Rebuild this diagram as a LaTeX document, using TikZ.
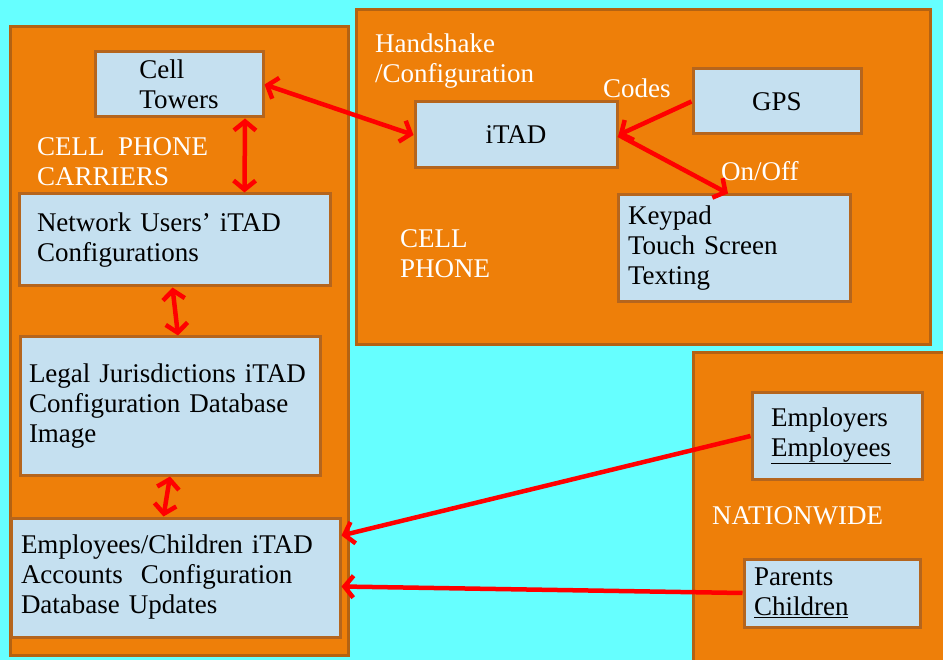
\documentclass[tikz,border=0pt]{standalone}
\usepackage{fontspec}
\setmainfont{Liberation Serif}
\usepackage{xcolor}
\usepackage{tikz}
\usetikzlibrary{arrows.meta}

\begin{document}
\begin{tikzpicture}[x=1pt, y=-1pt, >={Straight Barb[length=9pt, width=22pt]},
    panel/.style={fill=panelOrange, draw=panelEdge, line width=3pt},
    infobox/.style={fill=boxBlue, draw=boxEdge, line width=3pt, align=left, inner ysep=0pt,
        font=\fontsize{27}{30}\selectfont},
    tagtext/.style={white, align=left, anchor=west, inner sep=0pt, font=\fontsize{27}{30}\selectfont},
    redlink/.style={red, line width=4.5pt}]

    % --- LAYER 0: WARNA ---
    \definecolor{bgCyan}{RGB}{102,255,255}
    \definecolor{panelOrange}{RGB}{238,127,9}
    \definecolor{panelEdge}{RGB}{180,98,18}
    \definecolor{boxBlue}{RGB}{197,224,240}
    \definecolor{boxEdge}{RGB}{181,101,29}

    % --- LAYER 1: LATAR ---
    \useasboundingbox (0,0) rectangle (943,660);
    \fill[bgCyan] (0,0) rectangle (943,660);
    \clip (0,0) rectangle (943,660);

    % --- LAYER 2: PANEL ORANYE ---
    \draw[panel] (10,27) rectangle (348,655);   % carriers
    \draw[panel] (356,10) rectangle (930,345);  % cell phone
    \draw[panel] (693,353) rectangle (960,680); % nationwide

    % --- LAYER 3: KOTAK ---
    \node[infobox, minimum width=168, minimum height=65] (towers) at (179,84.5) {Cell\\Towers};
    \node[infobox, text width=275, inner xsep=18, minimum height=92] (netusers) at (174.5,240)
        {Network Users’ iTAD\\Configurations};
    \node[infobox, text width=282, inner xsep=9, minimum height=138] (legal) at (170,406)
        {Legal Jurisdictions iTAD\\Configuration Database\\Image};
    \node[infobox, text width=309, inner xsep=10, minimum height=119] (empdb) at (175.5,577.5)
        {Employees/Children iTAD\\Accounts~~Configuration\\Database Updates};

    \node[infobox, minimum width=202, minimum height=66] (itad) at (516,135) {iTAD};
    \node[infobox, minimum width=168, minimum height=65] (gps) at (777,101.5) {GPS};
    \node[infobox, text width=212, inner xsep=10, minimum height=107] (keypad) at (734,248.5)
        {Keypad\\Touch Screen\\Texting};

    \node[infobox, text width=132, inner xsep=19, minimum height=86] (employers) at (837,436)
        {Employers\\\underline{Employees}};
    \node[infobox, text width=156, inner xsep=10, minimum height=68] (parents) at (832,593)
        {Parents\\\underline{Children}};

    % --- LAYER 4: TEKS PANEL ---
    \node[tagtext] (carriers) at (37,162) {CELL~~PHONE\\CARRIERS};
    \node[tagtext] (handshake) at (375,61.5) {Handshake\\/Configuration};
    \node[tagtext] (codes) at (603,88) {Codes};
    \node[tagtext] (onoff) at (721,171) {On/Off};
    \node[tagtext] (phone) at (400,254) {CELL\\PHONE};
    \node[tagtext] (nationwide) at (712,516) {NATIONWIDE};

    % --- LAYER 5: PANAH MERAH ---
    \draw[redlink, <->] (towers.east) -- (itad.west);
    \draw[redlink, <->] ([xshift=66pt]towers.south) -- ([xshift=70pt]netusers.north);
    \draw[redlink, <->] ([xshift=-2pt]netusers.south) -- ([xshift=8pt]legal.north);
    \draw[redlink, <->] (legal.south) -- ([xshift=-12pt]empdb.north);
    \draw[redlink, ->] (gps.west) -- (itad.east);
    \draw[redlink, ->] (itad.east) -- ([xshift=-6pt]keypad.north);
    \draw[redlink, ->] (employers.west) -- ([yshift=42pt]empdb.east);
    \draw[redlink, ->] (parents.west) -- ([yshift=-9pt]empdb.east);

\end{tikzpicture}
\end{document}
